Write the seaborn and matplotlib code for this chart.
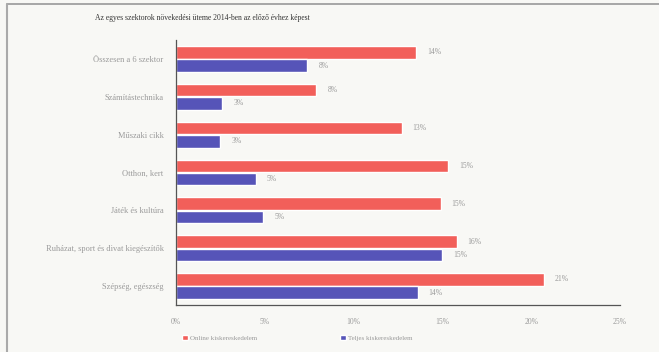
import matplotlib
matplotlib.use("Agg")
import matplotlib.pyplot as plt
import seaborn as sns
import pandas as pd
import numpy as np
from matplotlib.ticker import PercentFormatter, FixedLocator

categories = ["Összesen a 6 szektor", "Számítástechnika", "Műszaki cikk", "Otthon, kert",
              "Játék és kultúra", "Ruházat, sport és divat kiegészítők", "Szépség, egészség"]
online = [13.5, 7.9, 12.7, 15.3, 14.9, 15.8, 20.7]
total = [7.4, 2.6, 2.5, 4.5, 4.9, 15.0, 13.6]
online_labels = ["14%", "8%", "13%", "15%", "15%", "16%", "21%"]
total_labels = ["8%", "3%", "3%", "5%", "5%", "15%", "14%"]
series = ["Online kiskereskedelem", "Teljes kiskereskedelem"]
title = "Az egyes szektorok növekedési üteme 2014-ben az előző évhez képest"

df = pd.DataFrame({
    "cat": categories * 2,
    "val": online + total,
    "series": [series[0]] * len(categories) + [series[1]] * len(categories),
})

sns.set_theme(style="white")
plt.rcParams["font.family"] = ["Liberation Serif", "DejaVu Serif"]

bg = "#f8f8f5"
fig = plt.figure(figsize=(6.59, 3.52), dpi=100, facecolor=bg)
ax = fig.add_axes([176 / 659, 1 - 305 / 352, (620 - 176) / 659, (305 - 40) / 352])
ax.set_facecolor(bg)

colors = ["#f25f5a", "#5654b8"]
sns.barplot(data=df, y="cat", x="val", hue="series", palette=colors, ax=ax,
            orient="h", width=0.7, dodge=True, legend=True, saturation=1, gap=0.05)

txtc = "#9a9a9a"
for cont, labs in zip(ax.containers, [online_labels, total_labels]):
    ax.bar_label(cont, labels=labs, padding=8, fontsize=5.5, color=txtc)

ax.set_xlim(0, 25)
ax.set_ylim(len(categories) - 0.5, -0.5)
ax.set_xticks([0, 5, 10, 15, 20, 25])
ax.xaxis.set_major_formatter(PercentFormatter(decimals=0))
ax.yaxis.set_minor_locator(FixedLocator(np.arange(-0.5, len(categories), 1.0)))
ax.set_xlabel("")
ax.set_ylabel("")
ax.tick_params(axis="x", labelsize=5.5, colors=txtc, length=3, width=0.8, direction="inout", pad=8)
ax.tick_params(axis="y", which="major", labelsize=6, colors=txtc, length=0, pad=9)
ax.tick_params(axis="y", which="minor", length=3, width=0.8, direction="inout", color="#555555")
for lab in ax.get_xticklabels() + ax.get_yticklabels():
    lab.set_color(txtc)
for s in ["top", "right"]:
    ax.spines[s].set_visible(False)
for s in ["left", "bottom"]:
    ax.spines[s].set_color("#555555")
    ax.spines[s].set_linewidth(0.9)

leg = ax.legend(loc="upper left", bbox_to_anchor=(0.0, -0.09), ncol=2, frameon=False,
                fontsize=5, handlelength=0.8, handleheight=0.8, columnspacing=12,
                handletextpad=0.3)
for t in leg.get_texts():
    t.set_color(txtc)

fig.text(95 / 659, 1 - 18 / 352, title, fontsize=5.5, color="#333333", va="center")

fig.add_artist(plt.Line2D([7 / 659, 1.0], [1 - 4 / 352, 1 - 4 / 352], color="#999999", lw=1.2))
fig.add_artist(plt.Line2D([7 / 659, 7 / 659], [0, 1 - 4 / 352], color="#aaaaaa", lw=1.5))

fig.savefig("out.png", dpi=100, facecolor=bg)
